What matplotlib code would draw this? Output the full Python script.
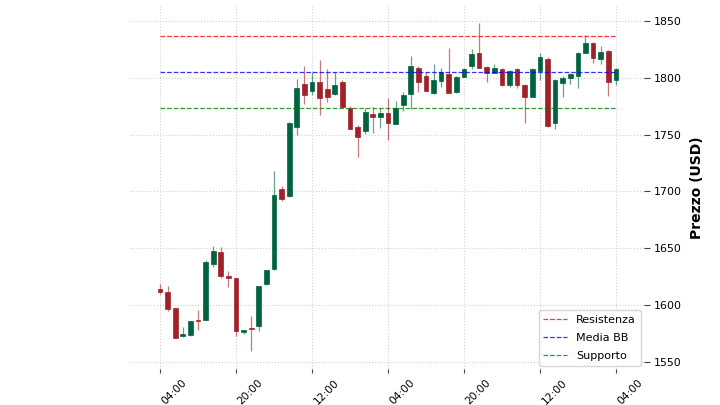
import matplotlib
matplotlib.use("Agg")
import matplotlib.pyplot as plt
import numpy as np

# OHLC data (index-based candles)
opens = [1614, 1612, 1598, 1573, 1574, 1587, 1587, 1636, 1646.5, 1625.4,
         1623.7, 1576.3, 1580, 1581.6, 1618.4, 1631.6, 1702.6, 1695.6, 1757, 1794.7,
         1788.6, 1796.5, 1790.4, 1786, 1796.5, 1773.7, 1757, 1753.5, 1768.4, 1765.8,
         1769.3, 1759.6, 1776.3, 1786, 1808.8, 1801.8, 1786.8, 1797.4, 1803.5, 1787.7,
         1800.9, 1810.5, 1822, 1809.6, 1804.4, 1808, 1793.9, 1808, 1793.9, 1783.3,
         1806.1, 1816.7, 1760.5, 1795.6, 1800, 1801.8, 1822, 1830.7, 1816.7, 1823.7,
         1798.2]
highs = [1618.4, 1616.7, 1598, 1580.7, 1586, 1595.6, 1640, 1651.8, 1651, 1630,
         1624, 1578, 1590.4, 1617, 1631, 1718.4, 1704.4, 1761, 1799, 1810.5,
         1805.3, 1815.8, 1808, 1805.3, 1798, 1775, 1758.8, 1773.7, 1774.6, 1773.7,
         1782.5, 1779.8, 1787.7, 1819.3, 1810, 1805.3, 1812.3, 1808.8, 1826.3, 1801.5,
         1808.5, 1825.4, 1848.2, 1810, 1812.3, 1808.5, 1806.5, 1808.5, 1794.5, 1808.8,
         1822, 1818, 1799, 1801.8, 1804.4, 1822.5, 1837.7, 1831.6, 1828.1, 1824.2,
         1808.5]
lows = [1609.5, 1594.7, 1571, 1572, 1573, 1578, 1586.8, 1634, 1623.7, 1615.8,
        1572.8, 1574.6, 1559.6, 1577.2, 1617.5, 1631, 1691.2, 1695, 1750, 1777.2,
        1785, 1767.5, 1779, 1785, 1774, 1755, 1730.7, 1750.9, 1751.8, 1756,
        1745.6, 1759, 1771, 1772.8, 1787.7, 1788, 1786, 1792.1, 1786.5, 1786.8,
        1800.5, 1808, 1808.5, 1796.5, 1804, 1793, 1792, 1791.2, 1760.5, 1783,
        1798, 1757, 1755.3, 1783.3, 1794.7, 1791.2, 1821.5, 1813.2, 1812.3, 1784.2,
        1793.9]
closes = [1611.4, 1596.5, 1571, 1574.6, 1586, 1586, 1637.7, 1647.4, 1625.4, 1623.7,
          1577.2, 1578, 1579.5, 1616.7, 1630.7, 1696.5, 1693, 1760.5, 1791.2, 1785,
          1796.5, 1782.5, 1783.3, 1793.9, 1774.6, 1755.3, 1748.2, 1770.2, 1765.8, 1769.3,
          1760.5, 1773.7, 1785, 1810.5, 1796.5, 1788.6, 1798.2, 1805.3, 1786.8, 1800.9,
          1808, 1821, 1808.8, 1804.4, 1808.8, 1793.9, 1806.1, 1793.9, 1783.3, 1808,
          1818.4, 1757.9, 1798.2, 1800, 1803.5, 1822, 1830.7, 1817.5, 1822.8, 1796.5,
          1808]

tick_positions = [0, 10, 20, 30, 40, 50, 60]
tick_labels = ['04:00', '20:00', '12:00', '04:00', '20:00', '12:00', '04:00']

resistenza = 1836.8
media_bb = 1805.3
supporto = 1773.7

up_color = '#006340'
down_color = '#a02128'

fig = plt.figure(figsize=(7.2, 4.05), dpi=100)
ax = fig.add_axes([130/720, 1 - 369/405, (644-130)/720, (369-6)/405])

o = np.array(opens); h = np.array(highs); l = np.array(lows); c = np.array(closes)
x = np.arange(len(o))
up = c >= o
colors = np.where(up, up_color, down_color)

ax.vlines(x, l, h, colors=colors, linewidth=0.9, alpha=0.6, zorder=2)
bottoms = np.minimum(o, c)
heights = np.maximum(np.abs(c - o), 0.6)
ax.bar(x, heights, bottom=bottoms, width=0.62, color=colors, edgecolor=colors,
       linewidth=0.5, zorder=3)

n = len(o)
ax.plot([0, n - 1], [resistenza, resistenza], color='red', linestyle='--',
        linewidth=0.9, alpha=0.8, label='Resistenza', zorder=4)
ax.plot([0, n - 1], [media_bb, media_bb], color='blue', linestyle='--',
        linewidth=0.9, alpha=0.8, label='Media BB', zorder=4)
ax.plot([0, n - 1], [supporto, supporto], color='green', linestyle='--',
        linewidth=0.9, alpha=0.8, label='Supporto', zorder=4)

ax.set_xlim(-3.95, 63.7)
ax.set_ylim(1544, 1863)

ax.set_xticks(tick_positions)
ax.set_xticklabels(tick_labels, rotation=45, ha='left', fontsize=7.7)
ax.set_yticks([1550, 1600, 1650, 1700, 1750, 1800, 1850])
ax.yaxis.tick_right()
ax.yaxis.set_label_position('right')
ax.tick_params(axis='y', labelsize=7.9, length=4, width=0.8, color='#444444', pad=3)
ax.tick_params(axis='x', length=3, width=0.8, color='#444444', pad=3)
ax.set_ylabel('Prezzo (USD)', fontsize=10, fontweight='bold', labelpad=6)

for s in ax.spines.values():
    s.set_visible(False)

ax.grid(True, color='#d0d0d0', linestyle=':', linewidth=0.8, zorder=0)
ax.set_axisbelow(True)

leg = ax.legend(loc='lower right', fontsize=8, frameon=True, framealpha=0.8,
                edgecolor='#cccccc', borderaxespad=0.3, labelspacing=0.75,
                handlelength=2.2)

fig.savefig('out.png', dpi=100)
